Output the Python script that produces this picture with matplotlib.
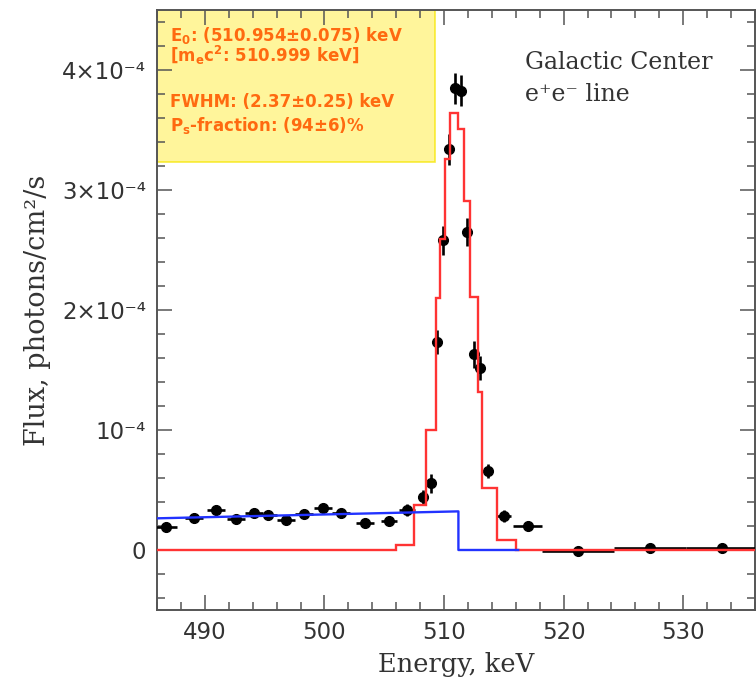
import matplotlib
matplotlib.use('Agg')
import matplotlib.pyplot as plt
from matplotlib.patches import Rectangle
from matplotlib.ticker import MultipleLocator, FuncFormatter

# measured spectrum, flux in units of 1e-4 photons/cm2/s
energy = [486.75, 489.1, 490.9, 492.6, 494.1, 495.3, 496.8, 498.3, 499.9, 501.4,
          503.4, 505.4, 506.9, 508.2, 508.9, 509.45, 509.9, 510.4, 510.95, 511.4,
          511.95, 512.5, 513.0, 513.7, 515.0, 517.0, 521.2, 527.2, 533.2]
flux = [0.194, 0.267, 0.333, 0.256, 0.308, 0.294, 0.247, 0.303, 0.347, 0.305,
        0.228, 0.245, 0.336, 0.44, 0.556, 1.73, 2.58, 3.34, 3.85, 3.83,
        2.65, 1.63, 1.52, 0.656, 0.286, 0.2, -0.01, 0.014, 0.014]
energy_err = [0.9, 0.75, 0.75, 0.75, 0.75, 0.75, 0.75, 0.75, 0.75, 0.75,
              0.75, 0.7, 0.7, 0.4, 0.3, 0.25, 0.25, 0.25, 0.25, 0.25,
              0.25, 0.25, 0.25, 0.3, 0.6, 1.2, 3.0, 3.0, 3.0]
flux_err = [0.04, 0.04, 0.04, 0.04, 0.04, 0.04, 0.04, 0.04, 0.04, 0.04,
            0.04, 0.04, 0.05, 0.06, 0.08, 0.1, 0.12, 0.13, 0.13, 0.13,
            0.12, 0.11, 0.1, 0.06, 0.05, 0.04, 0.03, 0.03, 0.03]

# fitted line model (step histogram)
model_edges = [486, 506.0, 507.5, 508.5, 509.3, 509.7, 510.1, 510.5, 511.2,
               511.7, 512.2, 512.8, 513.2, 514.4, 516.0, 536]
model_flux = [0, 0.04, 0.375, 1.0, 2.1, 2.59, 3.26, 3.64, 3.51,
              2.91, 2.11, 1.32, 0.52, 0.08, 0]

# ortho-positronium continuum
cont_x = [486, 511.2, 511.2, 516.2]
cont_y = [0.264, 0.322, 0, 0]

fit_lines = ['E$_0$: (510.954±0.075) keV',
             '[m$_e$c$^2$: 510.999 keV]',
             'FWHM: (2.37±0.25) keV',
             'P$_s$-fraction: (94±6)%']
y_labels = {0: '0', 1: '10⁻⁴', 2: '2×10⁻⁴', 3: '3×10⁻⁴', 4: '4×10⁻⁴'}


def ytick_fmt(val, pos):
    return y_labels.get(int(round(val)), '')


def make_plot(out_file):
    plt.rcParams['mathtext.default'] = 'regular'
    fig = plt.figure(figsize=(7.56, 6.77), dpi=100)
    ax = fig.add_axes([0.2077, 0.099, 0.791, 0.886])

    ax.stairs(model_flux, model_edges, color='#ff3333', lw=1.7, zorder=4)
    ax.plot(cont_x, cont_y, color='#2233ff', lw=1.7, zorder=4)
    ax.errorbar(energy, flux, xerr=energy_err, yerr=flux_err, fmt='o',
                color='black', ms=7, elinewidth=1.9, capsize=0, zorder=3)

    ax.set_xlim(486, 536)
    ax.set_ylim(-0.5, 4.5)
    ax.xaxis.set_major_locator(MultipleLocator(10))
    ax.xaxis.set_minor_locator(MultipleLocator(2))
    ax.yaxis.set_major_locator(MultipleLocator(1))
    ax.yaxis.set_minor_locator(MultipleLocator(0.2))
    ax.yaxis.set_major_formatter(FuncFormatter(ytick_fmt))

    ax.tick_params(which='both', direction='in', top=True, right=True,
                   color='#555555', width=1.1, labelsize=16.5,
                   labelcolor='#333333')
    ax.tick_params(which='major', length=11, pad=8)
    ax.tick_params(which='minor', length=5.5)
    for sp in ax.spines.values():
        sp.set_color('#555555')
        sp.set_linewidth(1.4)

    ax.set_xlabel('Energy, keV', family='DejaVu Serif', fontsize=18.5,
                  color='#333333')
    ax.xaxis.set_label_coords(0.5, -0.07)
    ax.set_ylabel('Flux, photons/cm²/s', family='DejaVu Serif', fontsize=19.5,
                  color='#333333')
    ax.yaxis.set_label_coords(-0.177, 0.5)

    box = Rectangle((0, 0.747), 0.465, 0.253, transform=ax.transAxes,
                    facecolor='#fff27a', edgecolor='#f7e600', lw=1.2,
                    alpha=0.75, zorder=1)
    ax.add_patch(box)
    ypos = [0.958, 0.925, 0.847, 0.808]
    for txt, yy in zip(fit_lines, ypos):
        ax.text(0.022, yy, txt, transform=ax.transAxes, color='#ff6a10',
                fontsize=12, fontweight='bold', va='center', ha='left',
                zorder=5)

    ax.text(0.615, 0.912, 'Galactic Center', transform=ax.transAxes,
            family='DejaVu Serif', fontsize=17, color='#333333',
            va='center')
    ax.text(0.615, 0.86, 'e⁺e⁻ line', transform=ax.transAxes,
            family='DejaVu Serif', fontsize=17, color='#333333',
            va='center')

    fig.savefig(out_file, dpi=100)


if __name__ == '__main__':
    make_plot('out.png')
